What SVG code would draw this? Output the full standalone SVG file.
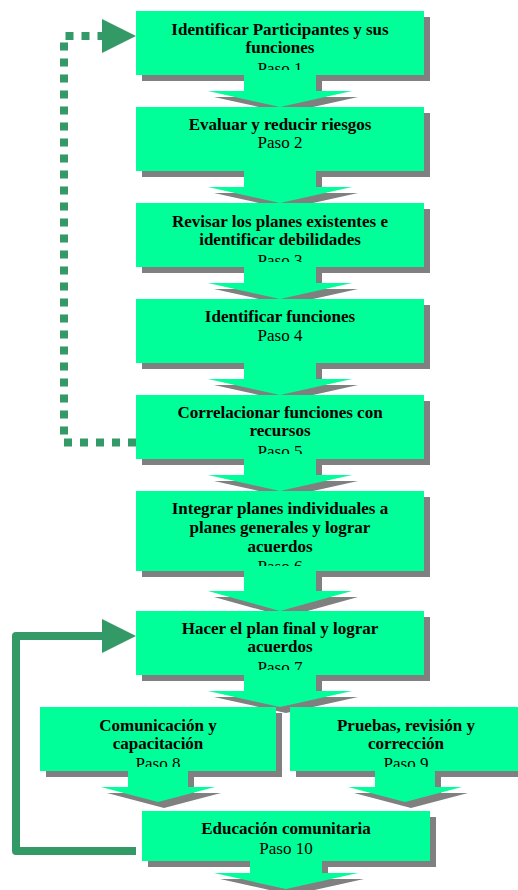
<svg xmlns="http://www.w3.org/2000/svg" width="518" height="890" viewBox="0 0 518 890">
<style>
.bx{fill:#00FF99}
.sh{fill:#808080}
.t{font-family:"Liberation Serif","Times New Roman",serif;font-size:17px;text-anchor:middle;fill:#000}
.b{font-weight:bold}
.loop{fill:none;stroke:#339966;stroke-width:8}
</style>
<defs>
<marker id="ah" markerUnits="userSpaceOnUse" markerWidth="34" markerHeight="34" viewBox="0 0 34 34" refX="2" refY="17" orient="auto">
<path d="M0,0 L34,17 L0,34Z" fill="#339966"/>
</marker>
<clipPath id="txt">
<rect x="136" y="11" width="288" height="59"/>
<rect x="136" y="107" width="288" height="59"/>
<rect x="136" y="203" width="288" height="59"/>
<rect x="136" y="299" width="288" height="59"/>
<rect x="136" y="395" width="288" height="59"/>
<rect x="136" y="491" width="288" height="75"/>
<rect x="136" y="611" width="288" height="59"/>
<rect x="40" y="707" width="236" height="60"/>
<rect x="290" y="707" width="234" height="60"/>
<rect x="142" y="811" width="288" height="50"/>
</clipPath>
<clipPath id="outside">
<path clip-rule="evenodd" d="M0,0H518V890H0Z M136,11h288v64h-288Z M136,107h288v64h-288Z M136,203h288v64h-288Z M136,299h288v64h-288Z M136,395h288v64h-288Z M136,491h288v80h-288Z M136,611h288v64h-288Z M40,707h236v64h-236Z M290,707h234v64h-234Z M142,811h288v50h-288Z"/>
</clipPath>
</defs>

<g id="step1">
<rect class="sh" x="142" y="17" width="288" height="64"/>
<rect class="bx" x="136" y="11" width="288" height="64"/>
<g clip-path="url(#txt)">
<text class="t b" x="280" y="35">Identificar Participantes y sus</text>
<text class="t b" x="280" y="53">funciones</text>
<text class="t" x="280" y="74">Paso 1</text>
</g>
</g>
<g id="step2">
<rect class="sh" x="142" y="113" width="288" height="64"/>
<rect class="bx" x="136" y="107" width="288" height="64"/>
<g clip-path="url(#txt)">
<text class="t b" x="280" y="130">Evaluar y reducir riesgos</text>
<text class="t" x="280" y="148">Paso 2</text>
</g>
</g>
<g id="step3">
<rect class="sh" x="142" y="209" width="288" height="64"/>
<rect class="bx" x="136" y="203" width="288" height="64"/>
<g clip-path="url(#txt)">
<text class="t b" x="280" y="227">Revisar los planes existentes e</text>
<text class="t b" x="280" y="245">identificar debilidades</text>
<text class="t" x="280" y="266">Paso 3</text>
</g>
</g>
<g id="step4">
<rect class="sh" x="142" y="305" width="288" height="64"/>
<rect class="bx" x="136" y="299" width="288" height="64"/>
<g clip-path="url(#txt)">
<text class="t b" x="280" y="322">Identificar funciones</text>
<text class="t" x="280" y="341">Paso 4</text>
</g>
</g>
<g id="step5">
<rect class="sh" x="142" y="401" width="288" height="64"/>
<rect class="bx" x="136" y="395" width="288" height="64"/>
<g clip-path="url(#txt)">
<text class="t b" x="280" y="418">Correlacionar funciones con</text>
<text class="t b" x="280" y="436">recursos</text>
<text class="t" x="280" y="457">Paso 5</text>
</g>
</g>
<g id="step6">
<rect class="sh" x="142" y="497" width="288" height="80"/>
<rect class="bx" x="136" y="491" width="288" height="80"/>
<g clip-path="url(#txt)">
<text class="t b" x="280" y="514">Integrar planes individuales a</text>
<text class="t b" x="280" y="533">planes generales y lograr</text>
<text class="t b" x="280" y="552">acuerdos</text>
<text class="t" x="280" y="572">Paso 6</text>
</g>
</g>
<g id="step7">
<rect class="sh" x="142" y="617" width="288" height="64"/>
<rect class="bx" x="136" y="611" width="288" height="64"/>
<g clip-path="url(#txt)">
<text class="t b" x="280" y="634">Hacer el plan final y lograr</text>
<text class="t b" x="280" y="652">acuerdos</text>
<text class="t" x="280" y="673">Paso 7</text>
</g>
</g>
<g id="step8">
<rect class="sh" x="46" y="713" width="236" height="64"/>
<rect class="bx" x="40" y="707" width="236" height="64"/>
<g clip-path="url(#txt)">
<text class="t b" x="158" y="731">Comunicación y</text>
<text class="t b" x="158" y="749">capacitación</text>
<text class="t" x="158" y="769">Paso 8</text>
</g>
</g>
<g id="step9">
<rect class="sh" x="296" y="713" width="234" height="64"/>
<rect class="bx" x="290" y="707" width="234" height="64"/>
<g clip-path="url(#txt)">
<text class="t b" x="406" y="731">Pruebas, revisión y</text>
<text class="t b" x="406" y="749">corrección</text>
<text class="t" x="406" y="769">Paso 9</text>
</g>
</g>
<g id="step10">
<rect class="sh" x="148" y="817" width="288" height="50"/>
<rect class="bx" x="142" y="811" width="288" height="50"/>
<g clip-path="url(#txt)">
<text class="t b" x="286" y="834">Educación comunitaria</text>
<text class="t" x="286" y="854">Paso 10</text>
</g>
</g>

<g id="connectors">
<g clip-path="url(#outside)">
<polygon class="sh" points="250,81 322,81 322,97 358,97 286,113 214,97 250,97"/>
<polygon class="sh" points="250,177 322,177 322,193 358,193 286,209 214,193 250,193"/>
<polygon class="sh" points="250,273 322,273 322,289 358,289 286,305 214,289 250,289"/>
<polygon class="sh" points="250,369 322,369 322,385 358,385 286,401 214,385 250,385"/>
<polygon class="sh" points="250,465 322,465 322,481 358,481 286,497 214,481 250,481"/>
<polygon class="sh" points="250,577 322,577 322,597 358,597 286,617 214,597 250,597"/>
<polygon class="sh" points="250,681 322,681 322,697 358,697 286,713 214,697 250,697"/>
<polygon class="sh" points="134,777 194,777 194,793 221,793 164,808 107,793 134,793"/>
<polygon class="sh" points="381,777 441,777 441,793 468,793 411,808 354,793 381,793"/>
<polygon class="sh" points="256,867 328,867 328,879 364,879 292,895 220,879 256,879"/>
</g>
<polygon class="bx" points="244,75 316,75 316,91 352,91 280,107 208,91 244,91"/>
<polygon class="bx" points="244,171 316,171 316,187 352,187 280,203 208,187 244,187"/>
<polygon class="bx" points="244,267 316,267 316,283 352,283 280,299 208,283 244,283"/>
<polygon class="bx" points="244,363 316,363 316,379 352,379 280,395 208,379 244,379"/>
<polygon class="bx" points="244,459 316,459 316,475 352,475 280,491 208,475 244,475"/>
<polygon class="bx" points="244,571 316,571 316,591 352,591 280,611 208,591 244,591"/>
<polygon class="bx" points="244,675 316,675 316,691 352,691 280,707 208,691 244,691"/>
<polygon class="bx" points="128,771 188,771 188,787 215,787 158,802 101,787 128,787"/>
<polygon class="bx" points="375,771 435,771 435,787 462,787 405,802 348,787 375,787"/>
<polygon class="bx" points="250,861 322,861 322,873 358,873 286,889 214,873 250,873"/>
<path class="loop" stroke-dasharray="8 8" d="M136,442.5 H64 V36 H104" marker-end="url(#ah)"/>
<path class="loop" stroke-linejoin="round" d="M136,851 H16 V636 H104" marker-end="url(#ah)"/>
</g>
</svg>
